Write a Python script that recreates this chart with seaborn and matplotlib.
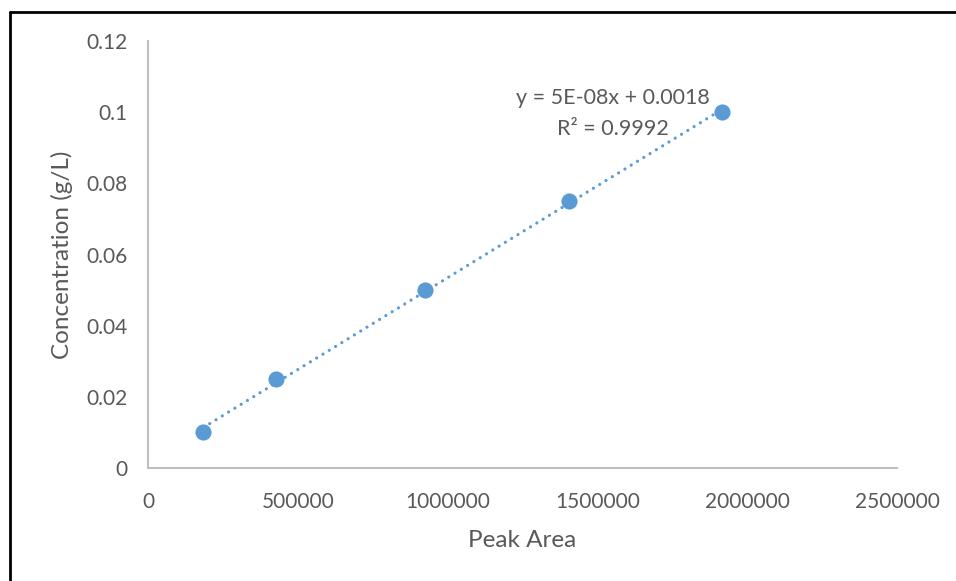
import numpy as np
import pandas as pd
import matplotlib
matplotlib.use("Agg")
import matplotlib.pyplot as plt
import seaborn as sns
from matplotlib.lines import Line2D

# Calibration standards
peak_area = [185000, 427000, 924000, 1405000, 1916000]
concentration = [0.010, 0.025, 0.050, 0.075, 0.100]

x_ticks = [0, 500000, 1000000, 1500000, 2000000, 2500000]
y_ticks = [0, 0.02, 0.04, 0.06, 0.08, 0.1, 0.12]
y_tick_labels = ["0", "0.02", "0.04", "0.06", "0.08", "0.1", "0.12"]

equation_text = "y = 5E-08x + 0.0018"
r2_text = "R² = 0.9992"

sns.set_theme(style="white")
plt.rcParams["font.family"] = ["Lato", "DejaVu Sans"]

blue = "#5B9BD5"
grey_text = "#595959"
axis_grey = "#BFBFBF"

df = pd.DataFrame({"Peak Area": peak_area, "Concentration (g/L)": concentration})

fig = plt.figure(figsize=(9.56, 5.81), dpi=100)
ax = fig.add_axes([0.1548, 0.1945, 0.9383 - 0.1548, 0.9294 - 0.1945])

# Linear trendline over the range of the standards
slope, intercept = np.polyfit(df["Peak Area"], df["Concentration (g/L)"], 1)
xs = np.array([df["Peak Area"].min(), df["Peak Area"].max()])
ax.plot(xs, slope * xs + intercept, color=blue, lw=2.3,
        linestyle=(0, (0.01, 2.3)), dash_capstyle="round", zorder=2)

sns.scatterplot(data=df, x="Peak Area", y="Concentration (g/L)", ax=ax,
                color=blue, s=135, edgecolor=blue, linewidth=0, zorder=3)

ax.set_xlim(0, 2500000)
ax.set_ylim(0, 0.12)
ax.set_xticks(x_ticks)
ax.set_xticklabels([str(t) for t in x_ticks])
ax.set_yticks(y_ticks)
ax.set_yticklabels(y_tick_labels)
ax.tick_params(axis="both", length=0, labelsize=15, colors=grey_text)
ax.tick_params(axis="y", pad=15)
ax.tick_params(axis="x", pad=17)

for side in ("top", "right"):
    ax.spines[side].set_visible(False)
for side in ("left", "bottom"):
    ax.spines[side].set_color(axis_grey)
    ax.spines[side].set_linewidth(1.5)

ax.set_xlabel("Peak Area", fontsize=17.5, color=grey_text)
ax.set_ylabel("Concentration (g/L)", fontsize=17.5, color=grey_text)
ax.xaxis.set_label_coords(0.5, -0.145)
ax.yaxis.set_label_coords(-0.100, 0.5)

ax.text(1552000, 0.1039, equation_text, ha="center", va="center",
        fontsize=15.5, color=grey_text)
ax.text(1552000, 0.0954, r2_text, ha="center", va="center",
        fontsize=15.5, color=grey_text)

# Chart frame lines along the top and left edges
fig.add_artist(Line2D([9.5 / 956, 1.0], [1 - 11.5 / 581, 1 - 11.5 / 581],
                      transform=fig.transFigure, color="black", lw=2))
fig.add_artist(Line2D([9.5 / 956, 9.5 / 956], [0.0, 1 - 11.5 / 581],
                      transform=fig.transFigure, color="black", lw=2))

fig.savefig("out.png", dpi=100)
